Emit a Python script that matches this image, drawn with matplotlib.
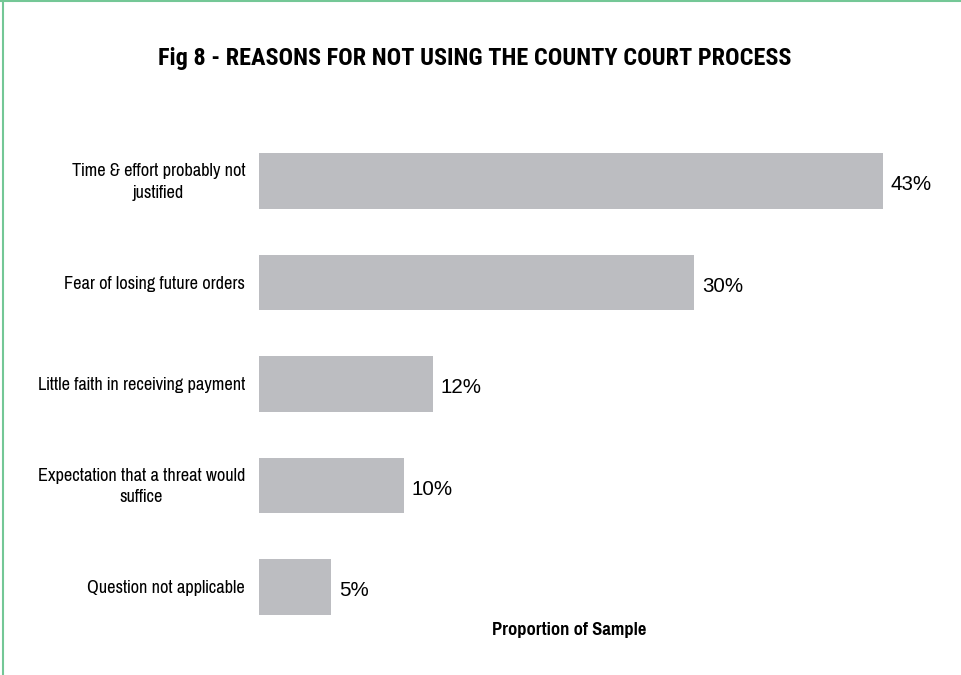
import matplotlib
matplotlib.use("Agg")
import matplotlib.pyplot as plt

# Fig 8 data
reasons = ["Time & effort probably not\njustified",
           "Fear of losing future orders",
           "Little faith in receiving payment",
           "Expectation that a threat would\nsuffice",
           "Question not applicable"]
shares = [43, 30, 12, 10, 5]
value_labels = ["43%", "30%", "12%", "10%", "5%"]

narrow = ["Pragati Narrow", "Archivo Narrow", "Roboto Condensed", "Liberation Sans"]
title_font = ["Roboto Condensed", "Archivo Narrow", "Oswald", "Liberation Sans"]
bar_col = "#bcbdc1"
green = "#74c796"

fig = plt.figure(figsize=(9.62, 6.75), dpi=100)
ax = fig.add_axes([259/962, 1 - 637.75/675, 681/962, 507.5/675])

ypos = list(range(len(reasons)))
ax.barh(ypos, shares, height=0.55, color=bar_col)
ax.set_xlim(0, 681/14.5)
ax.set_ylim(len(reasons) - 0.5, -0.5)

for y, v, lab, r in zip(ypos, shares, value_labels, reasons):
    ax.text(v + 0.55, y + 0.035, lab, va="center", ha="left", fontsize=14.8,
            family="Liberation Sans")
    ax.text(-0.95, y + 0.01, r, va="center", ha="right", multialignment="center",
            fontsize=14.4, family=narrow, linespacing=1.4)

ax.set_xticks([])
ax.set_yticks([])
for s in ax.spines.values():
    s.set_visible(False)

fig.text(475/962, 1 - 58/675, "Fig 8 - REASONS FOR NOT USING THE COUNTY COURT PROCESS",
         ha="center", va="center", fontsize=17.5, fontweight="bold", family=title_font)
fig.text(569/962, 1 - 630/675, "Proportion of Sample", ha="center", va="center",
         fontsize=14.5, fontweight="bold", family=narrow)

# green frame on top and left
fig.add_artist(plt.Line2D([0, 1], [1 - 1/675, 1 - 1/675], color=green, lw=1.5,
                          transform=fig.transFigure))
fig.add_artist(plt.Line2D([2.5/962, 2.5/962], [0, 1], color=green, lw=1.5,
                          transform=fig.transFigure))

fig.savefig("out.png", dpi=100)
